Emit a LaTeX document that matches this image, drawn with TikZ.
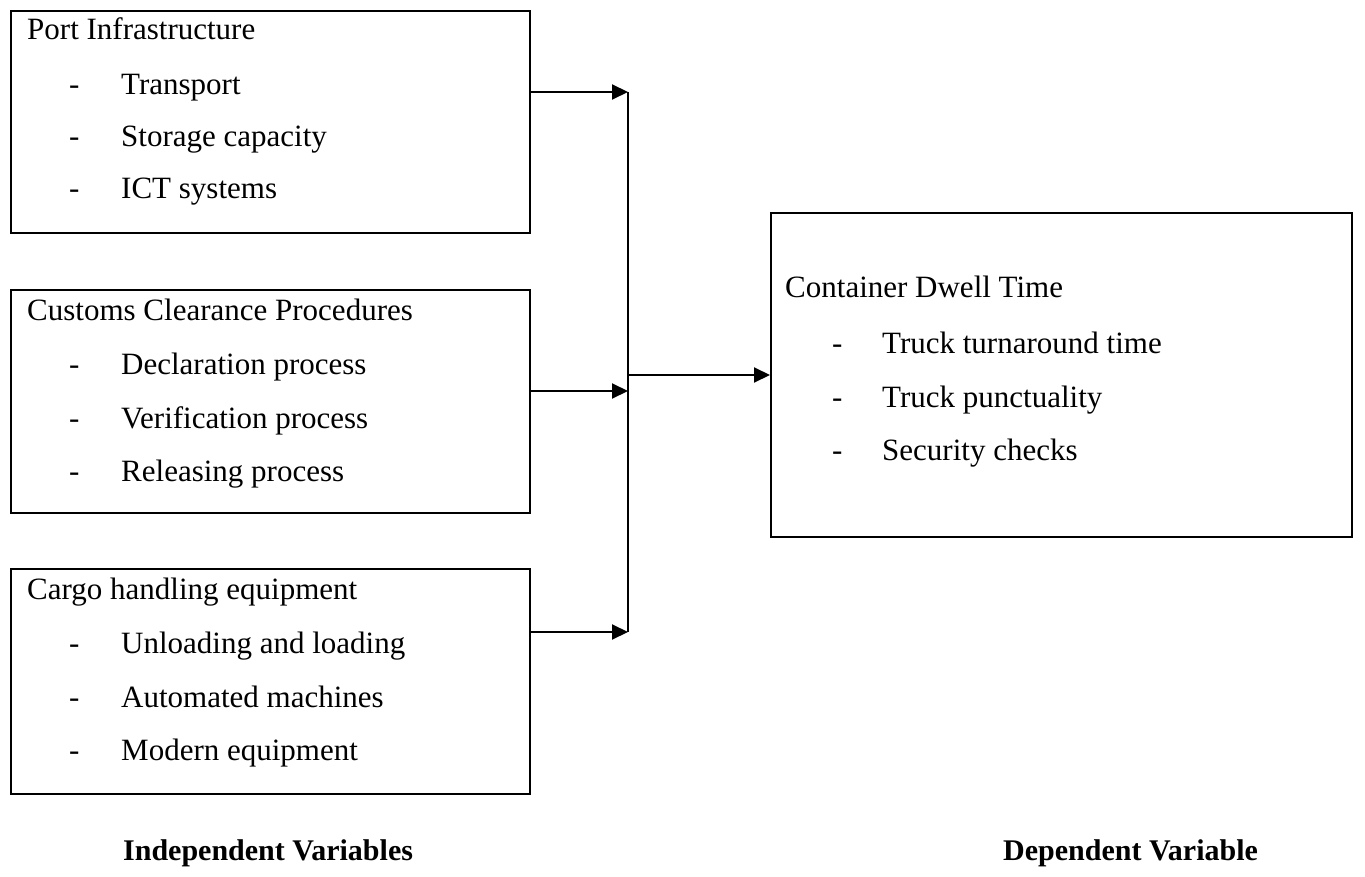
\documentclass[tikz,border=0pt]{standalone}
\usepackage{fontspec}
\setmainfont{Liberation Serif}
\usetikzlibrary{arrows.meta}
\begin{document}
\begin{tikzpicture}[x=1pt,y=-1pt,
  box/.style={draw,line width=2pt,rectangle,inner sep=0pt,anchor=north west},
  txt/.style={anchor=base west,inner sep=0pt,font=\fontsize{31}{37}\selectfont},
  lbl/.style={anchor=base west,inner sep=0pt,font=\fontsize{30}{36}\selectfont\bfseries},
  conn/.style={line width=2pt,-{Triangle[length=16pt,width=15pt]}},
  bus/.style={line width=1.6pt}]
\useasboundingbox (0,0) rectangle (1365,877);
% boxes
\node[box,minimum width=519pt,minimum height=222pt] (b1) at (10,10) {};
\node[box,minimum width=519pt,minimum height=223pt] (b2) at (10,289) {};
\node[box,minimum width=519pt,minimum height=225pt] (b3) at (10,568) {};
\node[box,minimum width=581pt,minimum height=324pt] (b4) at (770,212) {};
% box 1
\node[txt] (b1h) at (27,40) {Port Infrastructure};
\node[txt] (b1d1) at (69,95) {-};  \node[txt] (b1i1) at (121,95) {Transport};
\node[txt] (b1d2) at (69,147) {-}; \node[txt] (b1i2) at (121,147) {Storage capacity};
\node[txt] (b1d3) at (69,199) {-}; \node[txt] (b1i3) at (121,199) {ICT systems};
% box 2
\node[txt] (b2h) at (27,320) {Customs Clearance Procedures};
\node[txt] (b2d1) at (69,374) {-}; \node[txt] (b2i1) at (121,374) {Declaration process};
\node[txt] (b2d2) at (69,428) {-}; \node[txt] (b2i2) at (121,428) {Verification process};
\node[txt] (b2d3) at (69,481) {-}; \node[txt] (b2i3) at (121,481) {Releasing process};
% box 3
\node[txt] (b3h) at (27,599) {Cargo handling equipment};
\node[txt] (b3d1) at (69,653) {-}; \node[txt] (b3i1) at (121,653) {Unloading and loading};
\node[txt] (b3d2) at (69,707) {-}; \node[txt] (b3i2) at (121,707) {Automated machines};
\node[txt] (b3d3) at (69,760) {-}; \node[txt] (b3i3) at (121,760) {Modern equipment};
% box 4
\node[txt] (b4h) at (785,298) {Container Dwell Time};
\node[txt] (b4d1) at (832,353) {-}; \node[txt] (b4i1) at (882,353) {Truck turnaround time};
\node[txt] (b4d2) at (832,407) {-}; \node[txt] (b4i2) at (882,407) {Truck punctuality};
\node[txt] (b4d3) at (832,460) {-}; \node[txt] (b4i3) at (882,460) {Security checks};
% connectors
\coordinate (j1) at (628,92);
\coordinate (j2) at (628,391);
\coordinate (j3) at (628,632);
\coordinate (jm) at (628,375);
\draw[bus] (j1) -- (j3);
\draw[conn] (b1.east |- j1) -- (j1);
\draw[conn] (b2.east |- j2) -- (j2);
\draw[conn] (b3.east |- j3) -- (j3);
\draw[conn] (jm) -- (b4.west |- jm);
% labels
\node[lbl] (li) at (123,860) {Independent Variables};
\node[lbl] (ld) at (1003,860) {Dependent Variable};
\end{tikzpicture}
\end{document}
